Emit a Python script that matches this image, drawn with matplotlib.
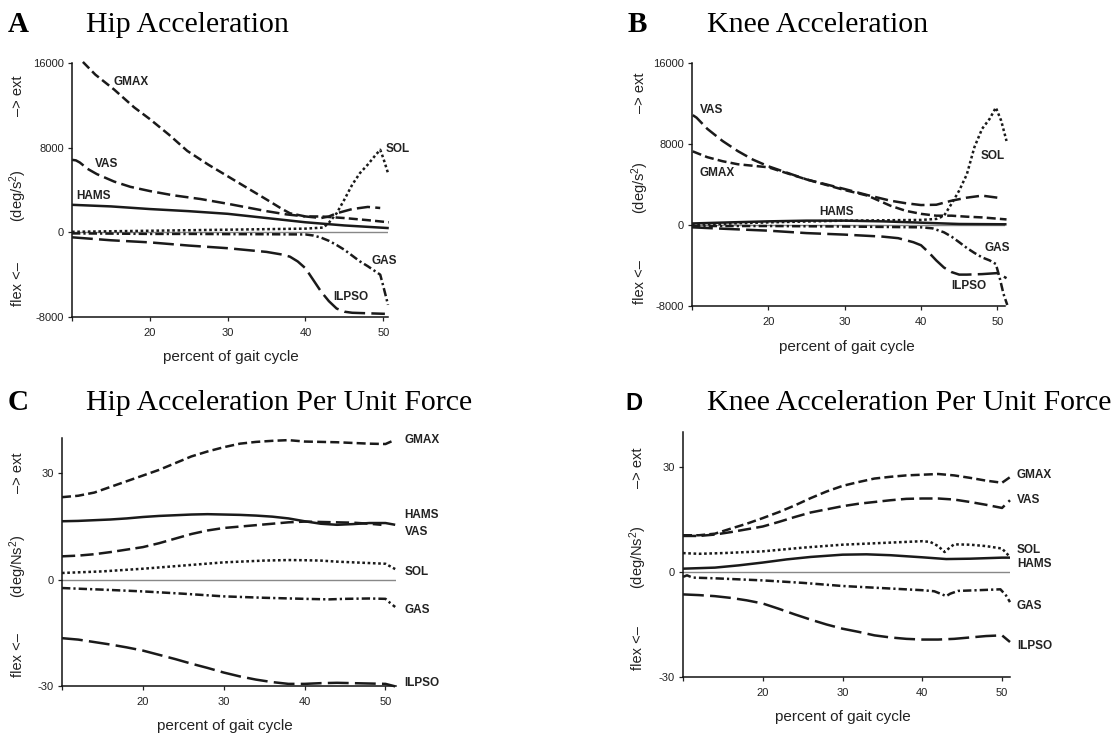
import matplotlib
matplotlib.use("Agg")
import matplotlib.pyplot as plt

plt.rcParams['font.family'] = ['Liberation Sans', 'DejaVu Sans']
plt.rcParams['axes.unicode_minus'] = False
plt.rcParams['lines.scale_dashes'] = False
plt.rcParams['mathtext.fontset'] = 'custom'
plt.rcParams['mathtext.rm'] = 'Liberation Sans'
plt.rcParams['mathtext.default'] = 'regular'

# ---------------- Panel A: Hip acceleration (deg/s^2) ----------------
A_gmax_x = [11.4, 13, 15.4, 18, 20, 22.5, 24.8, 27.5, 30, 32.5, 35, 37, 38, 40, 42, 45, 48, 50.7]
A_gmax_y = [16100, 14900, 13500, 11800, 10700, 9200, 7700, 6400, 5300, 4200, 3100, 2200, 1800, 1500, 1500, 1350, 1150, 950]
A_vas_x = [10, 10.5, 11, 12, 13.2, 15.4, 17.5, 20, 23, 26.5, 30, 32.5, 35, 37.5, 40, 42, 43, 44, 46, 48, 49.6]
A_vas_y = [6850, 6800, 6600, 6000, 5500, 4800, 4300, 3900, 3500, 3150, 2700, 2350, 2000, 1700, 1500, 1350, 1500, 1800, 2200, 2400, 2300]
A_hams_x = [10, 15, 20, 25, 30, 35, 40, 45, 50.7]
A_hams_y = [2600, 2450, 2200, 2000, 1750, 1350, 950, 650, 400]
A_sol_x = [10, 15, 20, 25, 30, 35, 40, 42.3, 43, 44, 45, 46, 47, 48, 49, 49.6, 50, 50.6]
A_sol_y = [50, 100, 150, 200, 250, 300, 350, 450, 900, 1800, 3100, 4500, 5600, 6400, 7300, 7800, 7000, 5600]
A_gas_x = [10, 15, 20, 25, 30, 35, 40, 41, 42, 43, 44, 45, 46, 47, 48, 49, 49.6, 50, 50.6]
A_gas_y = [-100, -120, -150, -150, -170, -180, -200, -300, -500, -800, -1200, -1650, -2200, -2750, -3200, -3700, -4000, -5100, -6850]
A_ilpso_x = [10, 15, 20, 25, 30, 35, 37, 38, 39, 40, 41, 42, 43, 44, 45, 46, 48, 50.2]
A_ilpso_y = [-470, -750, -950, -1250, -1500, -1850, -2100, -2300, -2750, -3400, -4500, -5600, -6500, -7200, -7500, -7600, -7650, -7700]

# ---------------- Panel B: Knee acceleration (deg/s^2) ----------------
B_vas_x = [10.1, 10.6, 12, 14, 16, 18, 20, 25, 30, 33, 36, 38, 40, 42, 44, 46, 48, 50]
B_vas_y = [10850, 10600, 9500, 8300, 7300, 6450, 5800, 4500, 3550, 2950, 2400, 2150, 1970, 2000, 2400, 2700, 2900, 2700]
B_gmax_x = [10.1, 12, 14, 16, 20, 25, 30, 33, 36, 38, 40, 42, 44, 46, 48, 51.2]
B_gmax_y = [7270, 6700, 6300, 6000, 5700, 4500, 3450, 2900, 1900, 1400, 1100, 920, 920, 820, 750, 550]
B_hams_x = [10, 15, 20, 25, 30, 35, 40, 45, 51.2]
B_hams_y = [150, 260, 360, 430, 430, 360, 230, 100, 70]
B_sol_x = [10, 20, 30, 40, 42, 43, 44, 45, 46, 47, 48, 49, 49.8, 50.5, 51.2]
B_sol_y = [30, 260, 430, 500, 600, 900, 2100, 3400, 5000, 7700, 9500, 10500, 11600, 10300, 8300]
B_gas_x = [10, 20, 30, 40, 41.5, 43, 44, 45, 46, 47, 48, 49, 49.8, 50.3, 50.8, 51.3]
B_gas_y = [-100, -100, -150, -230, -330, -720, -1150, -1700, -2270, -2760, -3200, -3500, -3850, -5200, -6800, -7900]
B_ilpso_x = [10, 15, 20, 25, 30, 35, 37, 39, 40, 41, 42, 43, 44, 45, 46, 48, 50, 51.2]
B_ilpso_y = [-230, -400, -560, -800, -950, -1150, -1300, -1700, -2000, -2700, -3500, -4200, -4650, -4900, -4900, -4850, -4750, -5250]

# ---------------- Panel C: Hip acceleration per unit force (deg/Ns^2) ----------------
C_x = [10, 12, 14, 16, 18, 20, 22, 24, 26, 28, 30, 32, 34, 36, 38, 40, 42, 44, 46, 48, 50, 51.2]
C_gmax_y = [23.3, 23.7, 24.6, 26.2, 27.8, 29.4, 31.0, 32.9, 34.8, 36.2, 37.4, 38.4, 38.9, 39.2, 39.4, 39.0, 38.9, 38.8, 38.6, 38.4, 38.3, 39.5]
C_hams_y = [16.5, 16.6, 16.8, 17.0, 17.3, 17.7, 18.0, 18.2, 18.4, 18.5, 18.4, 18.3, 18.1, 17.8, 17.3, 16.5, 15.8, 15.5, 15.7, 16.0, 16.0, 15.5]
C_vas_x = [10, 12, 14, 16, 18, 20, 22, 24, 26, 28, 30, 32, 34, 36, 38, 40, 42, 44, 46, 48, 49.5]
C_vas_y = [6.6, 6.8, 7.2, 7.8, 8.5, 9.2, 10.3, 11.6, 12.9, 13.9, 14.6, 15.0, 15.4, 15.8, 16.2, 16.4, 16.3, 16.2, 16.1, 15.8, 15.5]
C_sol_x = [10, 15, 20, 25, 30, 35, 38, 40, 42, 44, 46, 48, 50, 51.2]
C_sol_y = [1.9, 2.35, 3.1, 4.0, 4.9, 5.4, 5.55, 5.5, 5.4, 5.1, 4.9, 4.7, 4.5, 3.0]
C_gas_x = [10, 15, 20, 25, 30, 35, 40, 43, 45, 48, 50, 50.6, 51.2]
C_gas_y = [-2.35, -2.8, -3.3, -3.95, -4.7, -5.1, -5.4, -5.55, -5.4, -5.3, -5.4, -6.6, -7.7]
C_ilpso_y = [-16.5, -16.9, -17.6, -18.3, -19.1, -20.0, -21.2, -22.4, -23.7, -24.9, -26.2, -27.3, -28.2, -28.9, -29.4, -29.4, -29.2, -29.1, -29.2, -29.3, -29.4, -30.1]

# ---------------- Panel D: Knee acceleration per unit force (deg/Ns^2) ----------------
D_x = [10, 12, 14, 16, 18, 20, 22, 24, 26, 28, 30, 32, 34, 36, 38, 40, 42, 44, 46, 48, 50, 51]
D_gmax_y = [10.5, 10.5, 10.95, 12.4, 13.8, 15.4, 17.1, 19.0, 21.1, 23.0, 24.6, 25.7, 26.7, 27.2, 27.6, 27.8, 28.0, 27.6, 26.9, 26.1, 25.5, 27.1]
D_vas_y = [10.3, 10.3, 10.7, 11.4, 12.2, 13.0, 14.3, 15.7, 17.0, 17.9, 18.8, 19.5, 20.0, 20.5, 20.9, 21.0, 21.0, 20.7, 20.0, 19.2, 18.3, 20.5]
D_ilpso_y = [-6.4, -6.6, -6.9, -7.4, -8.1, -9.0, -10.5, -12.1, -13.6, -15.0, -16.2, -17.1, -18.1, -18.7, -19.1, -19.3, -19.3, -19.1, -18.7, -18.3, -18.1, -20.0]
D_sol_x = [10, 12, 15, 20, 25, 30, 35, 38, 40, 41, 42, 42.8, 43.5, 44, 46, 48, 50, 51]
D_sol_y = [5.4, 5.2, 5.4, 5.9, 6.95, 7.8, 8.3, 8.6, 8.8, 8.6, 7.4, 5.7, 7.1, 7.9, 7.8, 7.4, 6.7, 4.3]
D_hams_x = [10, 14, 17, 20, 23, 26, 30, 33, 36, 40, 43, 46, 50, 51]
D_hams_y = [0.95, 1.25, 1.9, 2.7, 3.6, 4.3, 4.95, 5.05, 4.8, 4.2, 3.7, 3.8, 4.1, 4.1]
D_gas_x = [10, 10.5, 11.2, 14, 20, 25, 30, 35, 40, 41.5, 42.5, 43, 43.5, 44.5, 47, 49.8, 50.5, 51]
D_gas_y = [-1.4, -0.95, -1.6, -1.8, -2.4, -3.1, -4.0, -4.6, -5.2, -5.5, -6.4, -6.9, -6.2, -5.4, -5.2, -4.95, -6.7, -8.6]

# label positions (data coordinates)
A_labels = {"GMAX": (15.35, 14200), "VAS": (13.0, 6470), "HAMS": (10.55, 3400),
            "SOL": (50.26, 7900), "GAS": (48.5, -2750), "ILPSO": (43.6, -6100)}
B_labels = {"VAS": (11.1, 11350), "GMAX": (11.0, 5100), "HAMS": (26.7, 1250),
            "SOL": (47.75, 6800), "GAS": (48.3, -2270), "ILPSO": (43.9, -6050)}
C_labels = {"GMAX": (52.35, 39.5), "HAMS": (52.35, 18.3), "VAS": (52.35, 13.5),
            "SOL": (52.35, 2.2), "GAS": (52.35, -8.5), "ILPSO": (52.35, -29.2)}
D_labels = {"GMAX": (51.87, 27.6), "VAS": (51.87, 20.7), "SOL": (51.87, 6.2),
            "HAMS": (51.87, 2.4), "GAS": (51.87, -9.7), "ILPSO": (51.87, -21.1)}

styles = {
    "GMAX": dict(dashes=(6.5, 3.0)),
    "VAS": dict(dashes=(9.5, 3.8)),
    "ILPSO": dict(dashes=(15, 4.5)),
    "SOL": dict(dashes=(1.9, 1.9)),
    "GAS": dict(dashes=(6, 2.2, 1.6, 2.2)),
    "HAMS": dict(linestyle='-'),
}
LC = '#1a1a1a'
LW = 1.8

W, H = 1120, 735
fig = plt.figure(figsize=(W / 100, H / 100), dpi=100)


def make_axes(left, right, top, bottom):
    return fig.add_axes([left / W, 1 - bottom / H, (right - left) / W, (bottom - top) / H])


def style_axes(ax, xlim, ylim, yticks, ylabel, ext_f, deg_f, flex_f, ylab_x, xlab_pos):
    ax.set_xlim(*xlim)
    ax.set_ylim(*ylim)
    for s in ['top', 'right']:
        ax.spines[s].set_visible(False)
    for s in ['left', 'bottom']:
        ax.spines[s].set_linewidth(1.1)
        ax.spines[s].set_color('#111111')
    ax.set_xticks([10, 20, 30, 40, 50])
    ax.set_xticklabels(['', '20', '30', '40', '50'])
    ax.set_yticks(yticks)
    ax.set_yticklabels([str(t) for t in yticks])
    ax.tick_params(direction='out', length=3, width=0.9, labelsize=8, colors='#222222', pad=3)
    ax.tick_params(axis='x', pad=5)
    ax.axhline(0, color='#888888', lw=1.0, zorder=1)
    ax.text(ylab_x, ext_f, '\u2013> ext', rotation=90, transform=ax.transAxes, ha='center', va='center', fontsize=10.5, color='#222222')
    ax.text(ylab_x, deg_f, ylabel, rotation=90, transform=ax.transAxes, ha='center', va='center', fontsize=10.5, color='#222222')
    ax.text(ylab_x, flex_f, 'flex <\u2013', rotation=90, transform=ax.transAxes, ha='center', va='center', fontsize=10.5, color='#222222')
    ax.text(xlab_pos[0], xlab_pos[1], 'percent of gait cycle', transform=ax.transAxes, ha='center', va='center', fontsize=11, color='#222222')


def plot_series(ax, name, x, y):
    ax.plot(x, y, color=LC, lw=LW, solid_capstyle='butt', dash_capstyle='butt', zorder=3, clip_on=False, **styles[name])


def put_labels(ax, labels):
    for name, (lx, ly) in labels.items():
        ax.text(lx, ly, name, ha='left', va='center', fontsize=8.5, fontweight='bold', color='#222222')


# Panel A
axA = make_axes(72, 388, 63, 317)
style_axes(axA, (10, 50.6), (-8000, 16000), [-8000, 0, 8000, 16000], '(deg/s$^2$)',
           0.87, 0.48, 0.13, -0.171, (0.503, -0.157))
plot_series(axA, "GMAX", A_gmax_x, A_gmax_y)
plot_series(axA, "VAS", A_vas_x, A_vas_y)
plot_series(axA, "HAMS", A_hams_x, A_hams_y)
plot_series(axA, "SOL", A_sol_x, A_sol_y)
plot_series(axA, "GAS", A_gas_x, A_gas_y)
plot_series(axA, "ILPSO", A_ilpso_x, A_ilpso_y)
put_labels(axA, A_labels)

# Panel B
axB = make_axes(692, 1005, 63, 306)
style_axes(axB, (10, 51.0), (-8000, 16000), [-8000, 0, 8000, 16000], '(deg/s$^2$)',
           0.877, 0.486, 0.10, -0.166, (0.495, -0.169))
plot_series(axB, "VAS", B_vas_x, B_vas_y)
plot_series(axB, "GMAX", B_gmax_x, B_gmax_y)
plot_series(axB, "HAMS", B_hams_x, B_hams_y)
plot_series(axB, "SOL", B_sol_x, B_sol_y)
plot_series(axB, "GAS", B_gas_x, B_gas_y)
plot_series(axB, "ILPSO", B_ilpso_x, B_ilpso_y)
put_labels(axB, B_labels)

# Panel C
axC = make_axes(62, 396, 438, 686)
style_axes(axC, (10, 51.3), (-30, 40), [-30, 0, 30], '(deg/Ns$^2$)',
           0.86, 0.484, 0.125, -0.132, (0.488, -0.161))
plot_series(axC, "GMAX", C_x, C_gmax_y)
plot_series(axC, "HAMS", C_x, C_hams_y)
plot_series(axC, "VAS", C_vas_x, C_vas_y)
plot_series(axC, "SOL", C_sol_x, C_sol_y)
plot_series(axC, "GAS", C_gas_x, C_gas_y)
plot_series(axC, "ILPSO", C_x, C_ilpso_y)
put_labels(axC, C_labels)

# Panel D
axD = make_axes(683, 1010, 432, 677)
style_axes(axD, (10, 51.0), (-30, 40), [-30, 0, 30], '(deg/Ns$^2$)',
           0.853, 0.49, 0.118, -0.138, (0.489, -0.163))
plot_series(axD, "GMAX", D_x, D_gmax_y)
plot_series(axD, "VAS", D_x, D_vas_y)
plot_series(axD, "SOL", D_sol_x, D_sol_y)
plot_series(axD, "HAMS", D_hams_x, D_hams_y)
plot_series(axD, "GAS", D_gas_x, D_gas_y)
plot_series(axD, "ILPSO", D_x, D_ilpso_y)
put_labels(axD, D_labels)

# Titles and panel letters
serif = ['Liberation Serif', 'DejaVu Serif']
fig.text(8 / W, 1 - 25 / H, 'A', fontfamily=serif, fontweight='bold', fontsize=21, ha='left', va='center')
fig.text(86 / W, 1 - 25 / H, 'Hip Acceleration', fontfamily=serif, fontsize=21.5, ha='left', va='center')
fig.text(628 / W, 1 - 25 / H, 'B', fontfamily=serif, fontweight='bold', fontsize=21, ha='left', va='center')
fig.text(707 / W, 1 - 25 / H, 'Knee Acceleration', fontfamily=serif, fontsize=21.5, ha='left', va='center')
fig.text(8 / W, 1 - 403 / H, 'C', fontfamily=serif, fontweight='bold', fontsize=21, ha='left', va='center')
fig.text(86 / W, 1 - 403 / H, 'Hip Acceleration Per Unit Force', fontfamily=serif, fontsize=21.5, ha='left', va='center')
fig.text(625 / W, 1 - 403 / H, 'D', fontweight='bold', fontsize=17, ha='left', va='center')
fig.text(707 / W, 1 - 403 / H, 'Knee Acceleration Per Unit Force', fontfamily=serif, fontsize=21.5, ha='left', va='center')

fig.savefig('out.png', dpi=100, facecolor='white')
